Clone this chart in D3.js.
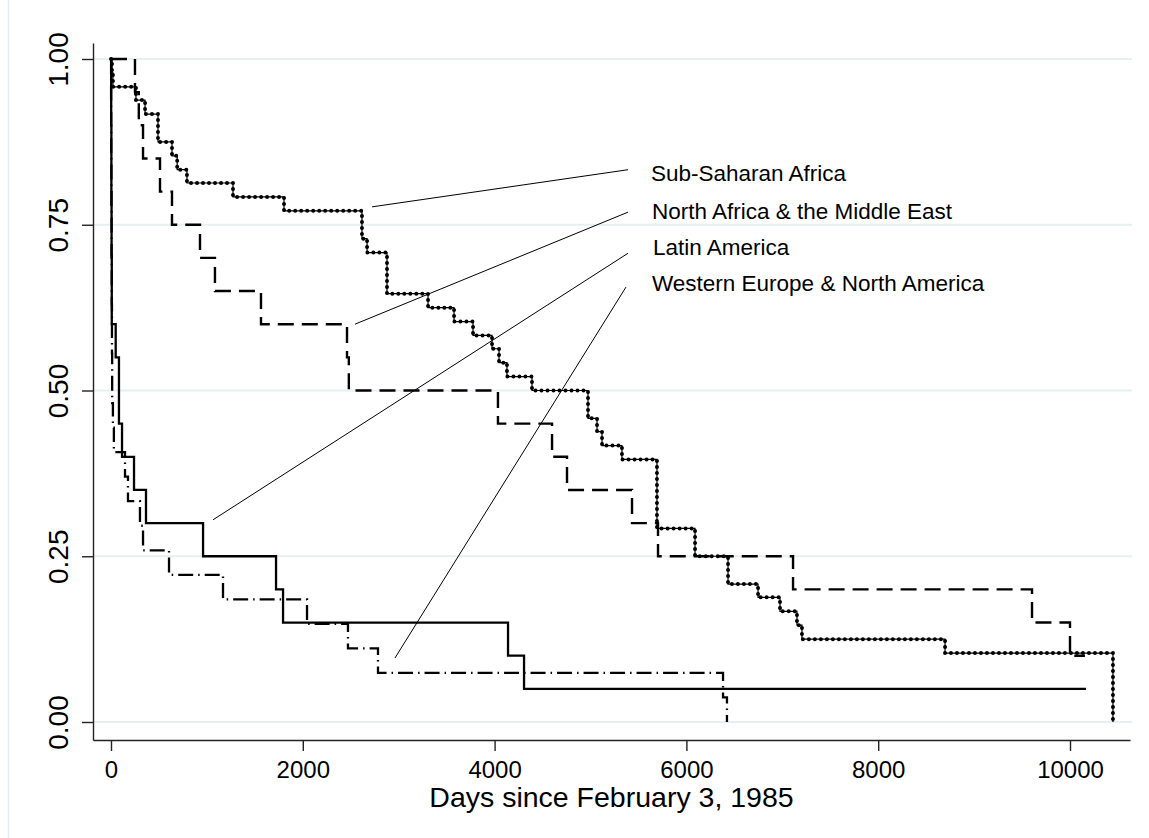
<!DOCTYPE html>
<html>
<head>
<meta charset="utf-8">
<script src="https://cdn.jsdelivr.net/npm/d3@7"></script>
<style>
  body { margin: 0; background: #fff; }
  text { font-family: "Liberation Sans", Arial, sans-serif; fill: #000; }
</style>
</head>
<body>
<div id="chart"></div>
<script>
// survival curves, days since Feb 3 1985
var latinDays = [0, 2, 4, 6, 8, 49, 83, 115, 240, 365, 960, 1721, 1794, 4140, 4307, 10167];
var latinSurv = [1, .9, .8, .7, .6, .55, .45, .40, .35, .30, .25, .20, .15, .10, .05, .05];

var northDays = [0, 250, 290, 334, 511, 636, 928, 1084, 1564, 2461, 2480, 4035, 4599, 4755, 5433, 5704, 7112, 9604, 10000, 10156];
var northSurv = [1, .95, .90, .85, .80, .75, .70, .65, .60, .55, .50, .45, .40, .35, .30, .25, .20, .15, .10, .10];

var sahDays = [0, 10, 20, 260, 355, 490, 636, 690, 792, 1272, 1804, 2617, 2670, 2878, 3306, 3577, 3775, 3973, 4046, 4129, 4390, 4974, 5068, 5120, 5328, 5693, 6090, 6434, 6747, 6976, 7153, 7205, 8697, 10448];
var sahSurv = [1, .979, .958, .938, .917, .875, .854, .833, .813, .792, .771, .729, .708, .646, .625, .604, .583, .563, .542, .521, .500, .458, .438, .417, .396, .292, .250, .208, .188, .167, .146, .125, .104, 0];

var westDays = [0, 1, 2, 4, 6, 8, 10, 12, 20, 30, 146, 177, 302, 334, 605, 1168, 2044, 2471, 2784, 6382, 6423];
var westSurv = [1, .926, .852, .778, .704, .630, .556, .481, .444, .407, .370, .333, .296, .259, .222, .185, .148, .111, .074, .037, 0];

var xTicks = [0, 2000, 4000, 6000, 8000, 10000];
var yTicks = [0, 0.25, 0.5, 0.75, 1];
var labels = ["Sub-Saharan Africa", "North Africa & the Middle East", "Latin America", "Western Europe & North America"];
var xTitle = "Days since February 3, 1985";

var W = 1149, H = 838;
var svg = d3.select("#chart").append("svg").attr("width", W).attr("height", H);
svg.append("rect").attr("width", W).attr("height", H).attr("fill", "#fff");
// faint outer frame edge
svg.append("line").attr("x1", 8.5).attr("x2", 8.5).attr("y1", 0).attr("y2", H)
    .attr("stroke", "#e4ecef").attr("stroke-width", 1.5);

var pLeft = 93, pRight = 1130, pTop = 43, pBottom = 740;
var x0 = d3.scaleLinear().domain([0, 10000]).range([111, 1070]);
var y0 = d3.scaleLinear().domain([0, 1]).range([722, 59]);
var x = d3.scaleLinear().domain([x0.invert(pLeft), x0.invert(pRight)]).range([pLeft, pRight]);
var y = d3.scaleLinear().domain([y0.invert(pBottom), y0.invert(pTop)]).range([pBottom, pTop]);

// grid
svg.append("g").selectAll("line").data(yTicks).enter().append("line")
    .attr("x1", pLeft).attr("x2", pRight + 2)
    .attr("y1", function (d) { return y(d); }).attr("y2", function (d) { return y(d); })
    .attr("stroke", "#e6eff1").attr("stroke-width", 2);

// axes
var xAxis = svg.append("g").attr("transform", "translate(0," + pBottom + ")")
    .call(d3.axisBottom(x).tickValues(xTicks).tickSize(11).tickSizeOuter(0).tickFormat(d3.format("d")));
xAxis.selectAll("text").attr("dy", null).attr("y", 38).style("font-size", "24px")
    .style("font-family", "Liberation Sans, Arial");
var yAxis = svg.append("g").attr("transform", "translate(" + pLeft + ",0)")
    .call(d3.axisLeft(y).tickValues(yTicks).tickSize(11).tickSizeOuter(0).tickFormat(d3.format(".2f")));
yAxis.selectAll("text")
    .attr("x", null).attr("dy", null)
    .attr("text-anchor", "middle")
    .attr("transform", "translate(-25,0) rotate(-90)")
    .style("font-size", "28px").style("font-family", "Liberation Sans, Arial");
svg.selectAll(".domain, .tick line").attr("stroke", "#222").attr("stroke-width", 1.4);

svg.append("text").attr("x", (pLeft + pRight) / 2).attr("y", 807)
    .attr("text-anchor", "middle").style("font-size", "28.5px").text(xTitle);

function pts(days, surv) {
    return days.map(function (d, i) { return [d, surv[i]]; });
}
var step = d3.line()
    .x(function (d) { return x(d[0]); })
    .y(function (d) { return y(d[1]); })
    .curve(d3.curveStepAfter);

var g = svg.append("g").attr("fill", "none").attr("stroke", "#000");

// Sub-Saharan Africa: dotted
g.append("path").attr("d", step(pts(sahDays, sahSurv))).attr("stroke-width", 1.2);
g.append("path").attr("d", step(pts(sahDays, sahSurv))).attr("stroke-width", 4)
    .attr("stroke-linecap", "round").attr("stroke-dasharray", "0,6");
// North Africa & Middle East: dashed
g.append("path").attr("d", step(pts(northDays, northSurv))).attr("stroke-width", 2.4)
    .attr("stroke-dasharray", "16,8");
// Latin America: solid
g.append("path").attr("d", step(pts(latinDays, latinSurv))).attr("stroke-width", 2.3);
// Western Europe & North America: dash-dot
g.append("path").attr("d", step(pts(westDays, westSurv))).attr("stroke-width", 2.3)
    .attr("stroke-dasharray", "15,5,1.5,5");

// leader lines, in data units: [fromDay, fromSurv, toDay, toSurv]
var leaders = [[2722, .777, 5391, .833], [2544, .600, 5391, .769], [1064, .305, 5391, .707], [2961, .0965, 5370, .656]];
var labelAt = [[5631, .816], [5641, .758], [5651, .705], [5641, .650]];

svg.append("g").selectAll("line").data(leaders).enter().append("line")
    .attr("x1", function (d) { return x(d[0]); }).attr("y1", function (d) { return y(d[1]); })
    .attr("x2", function (d) { return x(d[2]); }).attr("y2", function (d) { return y(d[3]); })
    .attr("stroke", "#000").attr("stroke-width", 1);

svg.append("g").selectAll("text").data(labels).enter().append("text")
    .attr("x", function (d, i) { return x(labelAt[i][0]); })
    .attr("y", function (d, i) { return y(labelAt[i][1]); })
    .style("font-size", "22.5px")
    .text(function (d) { return d; });
</script>
</body>
</html>
